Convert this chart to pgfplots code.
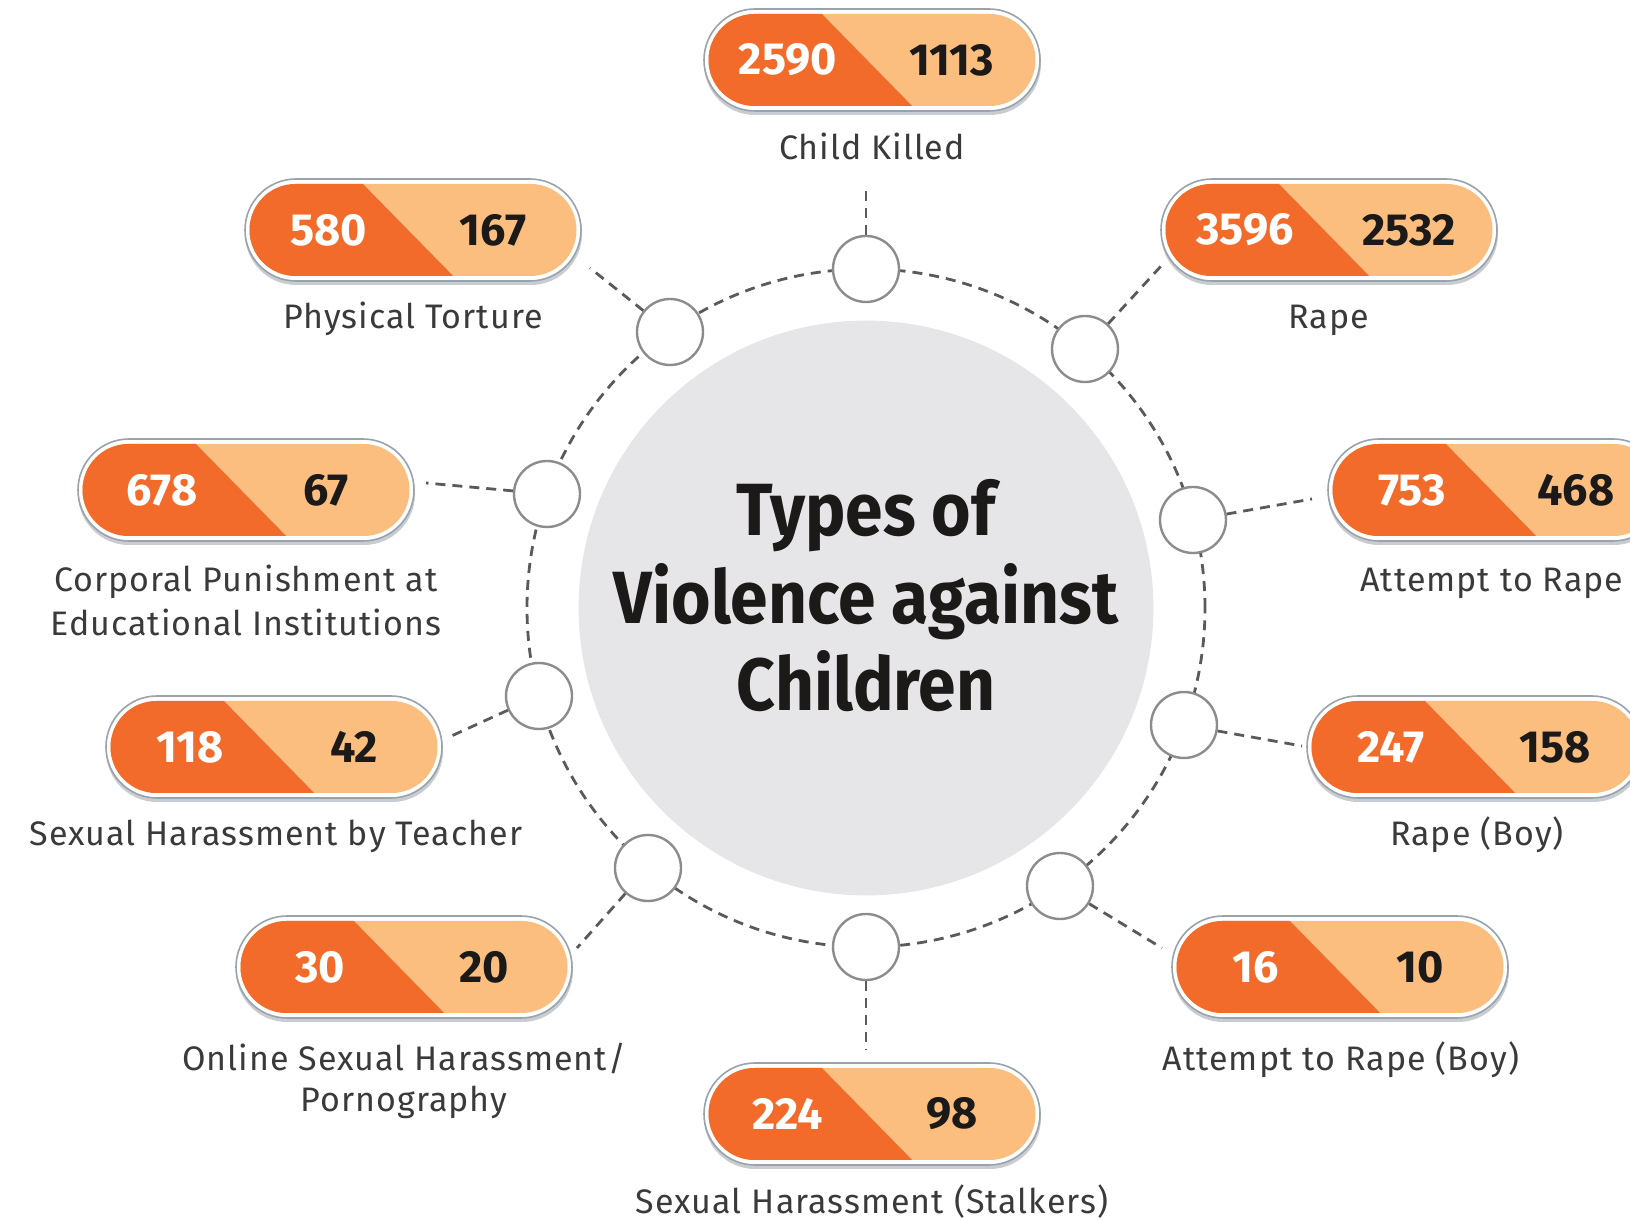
\documentclass[border=0pt]{standalone}
\usepackage{pgfplots}
\pgfplotsset{compat=1.18}
\usepackage{pgfplotstable}
\usepackage{fontspec}
\setmainfont{Fira Sans}
\newfontfamily\labelfont{Fira Sans}[LetterSpace=3]
\newfontfamily\titlefont{Fira Sans}[FakeStretch=0.915]
\definecolor{pilldark}{HTML}{F26B2A}
\definecolor{pilllight}{HTML}{FBBE7F}
\definecolor{pillborder}{HTML}{9AA3AB}
\definecolor{pillshadow}{HTML}{C9CDD1}
\definecolor{centergray}{HTML}{E6E6E8}
\definecolor{linegray}{HTML}{5A5A5A}
\definecolor{circlegray}{HTML}{8C8C8C}
\definecolor{labeltext}{HTML}{3A3A3A}
\definecolor{numtext}{HTML}{1C1A18}

\pgfdeclareplotmark{pill}{%
  \begin{pgfscope}%
  \pgfsetcornersarced{\pgfpoint{25.5pt}{25.5pt}}%
  \pgfsetfillcolor{pillshadow}%
  \pgfpathrectanglecorners{\pgfpoint{-84pt}{-27.5pt}}{\pgfpoint{84.5pt}{24.5pt}}%
  \pgfusepath{fill}%
  \pgfsetfillcolor{white}\pgfsetstrokecolor{pillborder}\pgfsetlinewidth{0.8pt}%
  \pgfpathrectanglecorners{\pgfpoint{-84pt}{-25.5pt}}{\pgfpoint{84pt}{25.5pt}}%
  \pgfusepath{fill,stroke}%
  \pgfsetcornersarced{\pgfpoint{23pt}{23pt}}%
  \pgfpathrectanglecorners{\pgfpoint{-81.75pt}{-23pt}}{\pgfpoint{81.75pt}{23pt}}%
  \pgfusepath{clip}%
  \pgfsetcornersarced{\pgfpointorigin}%
  \pgfsetfillcolor{pilllight}%
  \pgfpathrectanglecorners{\pgfpoint{-86pt}{-26pt}}{\pgfpoint{86pt}{26pt}}%
  \pgfusepath{fill}%
  \pgfsetfillcolor{pilldark}%
  \pgfpathmoveto{\pgfpoint{-86pt}{26pt}}%
  \pgfpathlineto{\pgfpoint{-28pt}{26pt}}%
  \pgfpathlineto{\pgfpoint{23pt}{-26pt}}%
  \pgfpathlineto{\pgfpoint{-86pt}{-26pt}}%
  \pgfpathclose
  \pgfusepath{fill}%
  \end{pgfscope}%
}

% pill centres (x, y in pixels, y upwards) with the two counts
\pgfplotstableread[col sep=comma]{
x,y,dark,light
872,1162,2590,1113
413,992,580,167
1329,992,3596,2532
246,732,678,67
1496,732,753,468
274,475,118,42
1475,475,247,158
404,255,30,20
1340,255,16,10
872,108,224,98
}\pills

\pgfplotstableread[col sep=comma]{
x,y,label
872,1062,Child Killed
413,893,Physical Torture
1329,893,Rape
246,630,Corporal Punishment at
246,586,Educational Institutions
1492,630,Attempt to Rape
276,376,Sexual Harassment by Teacher
1477,376,Rape (Boy)
404,151,Online Sexual Harassment/
404,110,Pornography
1341,151,Attempt to Rape (Boy)
872,8,Sexual Harassment (Stalkers)
}\labels

\pgfplotstableread[col sep=comma]{
x,y
866,953
1085,873
1193,702
1184,497
1060,336
866,275
648,354
539,526
547,728
670,890
}\nodescircles

\pgfplotstableread[col sep=comma]{
x,y,label
866,686,Types of
866,598,Violence against
866,511,Children
}\titlelines

\begin{document}
\begin{tikzpicture}
\begin{axis}[name=ax, hide axis, scale only axis, width=815pt, height=611pt,
  xmin=0, xmax=1630, ymin=0, ymax=1222, clip=false]
% central disc
\addplot[only marks, mark=*, mark size=143.5pt, mark options={fill=centergray, draw=centergray}]
  coordinates {(866,614)};
% dashed ring
\addplot[only marks, mark=o, mark size=169.5pt,
  mark options={draw=linegray, line width=1.4pt, dash pattern=on 5pt off 3.5pt}]
  coordinates {(866,614)};
% connectors
\pgfplotsset{conn/.style={linegray, line width=1.4pt, dash pattern=on 5pt off 3.5pt, mark=none}}
\addplot[conn] coordinates {(866,953) (866,1035)};
\addplot[conn] coordinates {(1085,873) (1162,957)};
\addplot[conn] coordinates {(1193,702) (1312,723)};
\addplot[conn] coordinates {(1184,497) (1302,476)};
\addplot[conn] coordinates {(1060,336) (1162,274)};
\addplot[conn] coordinates {(866,275) (866,172)};
\addplot[conn] coordinates {(648,354) (577,274)};
\addplot[conn] coordinates {(539,526) (447,484)};
\addplot[conn] coordinates {(547,728) (426,739)};
\addplot[conn] coordinates {(670,890) (590,954)};
% small circles
\addplot[only marks, mark=*, mark size=16.5pt,
  mark options={fill=white, draw=circlegray, line width=1.2pt, solid}]
  table[x=x, y=y] {\nodescircles};
% pills
\addplot[only marks, mark=pill] table[x=x, y=y] {\pills};
% dark counts
\addplot[draw=none, mark=none, point meta=explicit symbolic, nodes near coords,
  every node near coord/.append style={anchor=center, xshift=-42pt, text=white,
    font=\bfseries\fontsize{22.5}{26}\selectfont}]
  table[x=x, y=y, meta=dark] {\pills};
% light counts
\addplot[draw=none, mark=none, point meta=explicit symbolic, nodes near coords,
  every node near coord/.append style={anchor=center, xshift=40pt, text=numtext,
    font=\bfseries\fontsize{22.5}{26}\selectfont}]
  table[x=x, y=y, meta=light] {\pills};
% category labels
\addplot[draw=none, mark=none, point meta=explicit symbolic, nodes near coords,
  every node near coord/.append style={anchor=base, text=labeltext,
    font=\labelfont\fontsize{17}{20}\selectfont}]
  table[x=x, y=y, meta=label] {\labels};
% title
\addplot[draw=none, mark=none, point meta=explicit symbolic, nodes near coords,
  every node near coord/.append style={anchor=base, text=numtext,
    font=\titlefont\bfseries\fontsize{37}{44}\selectfont}]
  table[x=x, y=y, meta=label] {\titlelines};
\end{axis}
\pgfresetboundingbox
\path[use as bounding box] (ax.south west) rectangle (ax.north east);
\end{tikzpicture}
\end{document}
